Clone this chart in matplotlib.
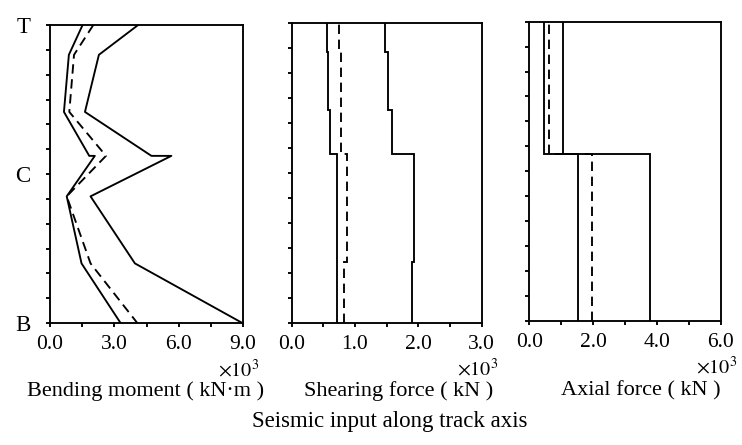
import matplotlib
matplotlib.use('Agg')
import matplotlib.pyplot as plt
import numpy as np
from matplotlib.ticker import MultipleLocator

plt.rcParams['font.family'] = ['Liberation Serif', 'DejaVu Serif']
plt.rcParams['font.size'] = 16
plt.rcParams['mathtext.fontset'] = 'stix'

# vertical position along the section: 0 = B (bottom), 6 = C (centre), 12 = T (top)
depth_labels = {0: 'B', 6: 'C', 12: 'T'}

# bending moment (x10^3 kN.m), polyline points from top to bottom
bm_levels = [12, 10.8, 8.5, 6.73, 6.73, 5.1, 2.4, 0]
bm_max = [4.11, 2.28, 1.63, 4.73, 5.66, 1.89, 3.96, 8.97]
bm_min = [1.52, 0.88, 0.65, 1.83, 2.09, 0.78, 1.47, 3.29]
bm_mean = [2.02, 1.12, 0.90, 2.61, 2.61, 0.78, 1.89, 4.07]

# shearing force (x10^3 kN), step values from bottom to top
sf_edges = [0, 2.44, 6.76, 8.53, 10.86, 12]
sf_min = [0.71, 0.71, 0.60, 0.58, 0.55]
sf_mean = [0.83, 0.88, 0.78, 0.78, 0.75]
sf_max = [1.90, 1.93, 1.59, 1.52, 1.47]

# axial force (x10^3 kN), step values from bottom to top
af_edges = [0, 6.7, 12]
af_min = [1.51, 0.46]
af_mean = [1.96, 0.62]
af_max = [3.78, 1.06]

LW = 1.35
DASH = (0, (5, 3))

fig = plt.figure(figsize=(7.42, 4.45), dpi=100)
W, H = 742, 445

def px_rect(left, top, right, bottom):
    return [left / W, 1 - bottom / H, (right - left) / W, (bottom - top) / H]

ax1 = fig.add_axes(px_rect(50, 25, 243, 323))
ax2 = fig.add_axes(px_rect(291.7, 23.3, 481.7, 322.7))
ax3 = fig.add_axes(px_rect(529.3, 21.7, 721, 320.7))

ax1.plot(bm_max, bm_levels, color='k', lw=LW)
ax1.plot(bm_min, bm_levels, color='k', lw=LW)
ax1.plot(bm_mean, bm_levels, color='k', lw=LW, linestyle=DASH)

for ax, edges, lo, mid, hi in [(ax2, sf_edges, sf_min, sf_mean, sf_max),
                               (ax3, af_edges, af_min, af_mean, af_max)]:
    ax.stairs(lo, edges, orientation='horizontal', baseline=None, color='k', lw=LW)
    ax.stairs(mid, edges, orientation='horizontal', baseline=None, color='k', lw=LW,
              linestyle=DASH)
    ax.stairs(hi, edges, orientation='horizontal', baseline=None, color='k', lw=LW)

xlims = [(9.0, 3.0, 1.5), (3.0, 1.0, 0.5), (6.0, 2.0, 1.0)]
for ax, (xmax, major, minor) in zip([ax1, ax2, ax3], xlims):
    ax.set_xlim(0, xmax)
    ax.set_ylim(0, 12)
    ax.xaxis.set_major_locator(MultipleLocator(major))
    ax.xaxis.set_minor_locator(MultipleLocator(minor))
    ax.xaxis.set_major_formatter(lambda v, p: f'{v:.1f}')
    ax.set_yticks(np.arange(13))
    ax.tick_params(axis='x', which='both', direction='out', length=3, width=LW,
                   pad=5.5, labelsize=15.5)
    ax.tick_params(axis='y', direction='out', length=3, width=LW)
    for s in ax.spines.values():
        s.set_linewidth(LW)
    ax.annotate(r'$\times 10^3$', xy=(1, 0), xycoords='axes fraction',
                xytext=(12, -34), textcoords='offset points',
                ha='right', va='center', fontsize=14.5)

ax1.set_yticklabels([depth_labels.get(i, '') for i in range(13)])
ax1.tick_params(axis='y', pad=11, labelsize=16.5)
ax2.set_yticklabels([])
ax3.set_yticklabels([])

fig.text(146 / W, 1 - 391 / H, 'Bending moment ( kN·m )', ha='center', va='center')
fig.text(399 / W, 1 - 391 / H, 'Shearing force ( kN )', ha='center', va='center')
fig.text(641 / W, 1 - 391 / H, 'Axial force ( kN )', ha='center', va='center')
fig.text(390 / W, 1 - 421 / H, 'Seismic input along track axis', ha='center', va='center',
         fontsize=16.5)

fig.savefig('out.png', dpi=100)
